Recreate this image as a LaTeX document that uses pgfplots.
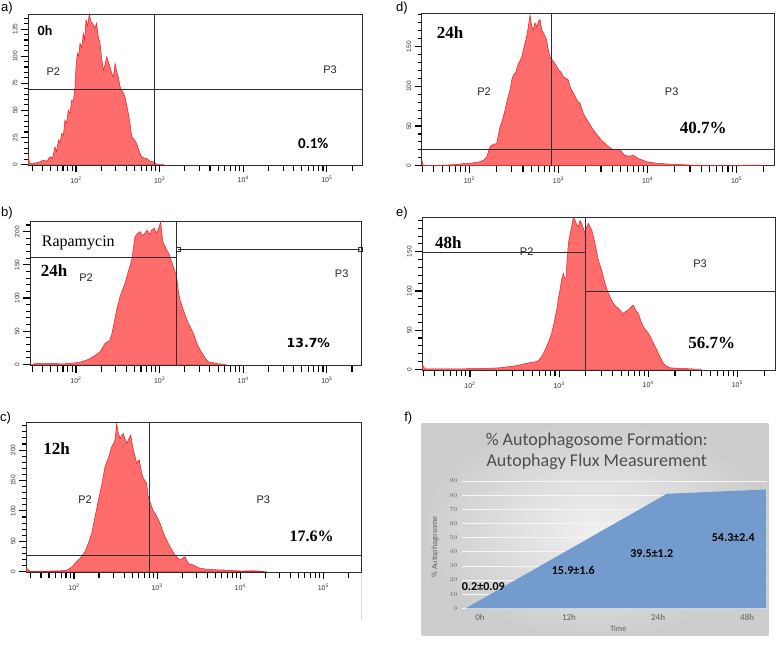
\documentclass[border=0pt]{standalone}
\usepackage{fontspec}
\setmainfont{Liberation Sans}
\newfontfamily\carlito{Carlito}
\newfontfamily\tnr{Liberation Serif}
\newfontfamily\djv{DejaVu Sans}
\usepackage{pgfplots}
\pgfplotsset{compat=1.18}
\definecolor{histfill}{RGB}{255,108,108}
\definecolor{histline}{RGB}{228,30,36}
\definecolor{gateline}{RGB}{45,45,45}
\definecolor{areablue}{RGB}{116,155,205}
\definecolor{titlegray}{RGB}{78,78,78}
\tikzset{tickst/.style={draw=black, line width=1.1pt}}
\newcommand\xticksat[2]{\pgfplotsinvokeforeach{#2}{\draw[tickst] (axis cs:##1,#1) -- ([yshift=-7pt]axis cs:##1,#1);}}
\newcommand\yticksat[3]{\pgfplotsinvokeforeach{#2}{\draw[tickst] (axis cs:#1,##1) -- ([xshift=-#3]axis cs:#1,##1);}}
\pgfplotsset{
  facs/.style={
    scale only axis, anchor=north west, clip=false,
    axis line style={gateline, line width=0.7pt},
    xtick={2,3,4,5},
    xticklabels={10\textsuperscript{2},10\textsuperscript{3},10\textsuperscript{4},10\textsuperscript{5}},
    minor xtick={1.477,1.602,1.699,1.778,1.845,1.903,1.954,2.301,2.477,2.602,2.699,2.778,2.845,2.903,2.954,3.301,3.477,3.602,3.699,3.778,3.845,3.903,3.954,4.301,4.477,4.602,4.699,4.778,4.845,4.903,4.954,5.301},
    tick align=outside, xtick pos=left, ytick pos=left,
    major tick length=7pt, minor tick length=6pt,
    every tick/.style={draw=black, line width=1.1pt},
    every minor tick/.style={draw=black, line width=1.1pt},
    tick label style={font=\fontsize{7}{7}\selectfont, text=black!80},
    yticklabel style={rotate=90, anchor=south, font=\fontsize{6.5}{6.5}\selectfont},
    xticklabel style={yshift=-1pt},
    /pgf/number format/assume math mode=true,
  },
  hist/.style={fill=histfill, draw=histline, line width=0.5pt},
  gate/.style={gateline, line width=0.7pt},
}
\begin{document}
\begin{tikzpicture}
\path[use as bounding box] (0,0) rectangle (778pt,-646pt);
\fill[white] (0,0) rectangle (778pt,-646pt);

% ---------------- panel a ----------------
\begin{axis}[facs, at={(28pt,-14pt)}, width=334pt, height=151pt,
  xmin=1.426, xmax=5.42, ymin=-0.5, ymax=139, ytick={0,25,50,75,100,125}]
\addplot[hist] coordinates {(1.426,0) (1.430,8.6) (1.445,1) (1.470,0.9) (1.560,2) (1.609,4) (1.650,3) (1.689,7.1) (1.720,6) (1.749,16.3) (1.769,12) (1.789,22.5) (1.809,20) (1.829,28.7) (1.849,27) (1.868,41) (1.888,38) (1.908,50.2) (1.928,47) (1.948,59.5) (1.968,58) (1.988,71.8) (2.000,90) (2.016,102.6) (2.032,100) (2.048,111.9) (2.068,108) (2.088,121.1) (2.104,115) (2.120,133.5) (2.140,128) (2.159,139) (2.179,132) (2.199,130.4) (2.223,126) (2.247,130.4) (2.267,118) (2.287,111.9) (2.307,98) (2.327,87.2) (2.347,92) (2.367,99.5) (2.387,95) (2.407,90.3) (2.427,84) (2.447,81) (2.467,93.4) (2.486,86) (2.506,81) (2.526,72) (2.546,68.7) (2.566,66) (2.586,62.6) (2.606,55) (2.626,47.2) (2.646,38) (2.666,25.6) (2.696,23) (2.726,19.4) (2.756,12) (2.785,7.1) (2.815,6) (2.845,5.5) (2.885,3) (2.925,2.5) (2.965,0.3) (3.05,0)} \closedcycle;
\addplot[gate] coordinates {(1.426,69.3) (5.42,69.3)};
\addplot[gate] coordinates {(2.937,-0.5) (2.937,139)};
\xticksat{-0.5}{2,3,4,5}
\yticksat{1.426}{0,25,50,75,100,125}{6pt}
\yticksat{1.426}{5,10,15,20,30,35,40,45,55,60,65,70,80,85,90,95,105,110,115,120,130,135}{4pt}
\end{axis}

% ---------------- panel d ----------------
\begin{axis}[facs, at={(421.7pt,-13.3pt)}, width=352.6pt, height=152.4pt,
  xmin=1.465, xmax=5.423, ymin=0, ymax=192, ytick={0,50,100,150}]
\addplot[hist] coordinates {(1.465,0) (1.467,7) (1.484,0.5) (1.70,0.5) (1.858,1.5) (1.93,2.5) (2.007,3) (2.06,4) (2.120,5) (2.16,7) (2.195,11) (2.232,24) (2.27,27) (2.307,28) (2.344,49) (2.372,58) (2.400,70) (2.428,84) (2.456,95) (2.475,108) (2.494,114) (2.522,118) (2.550,129) (2.568,132) (2.587,137) (2.615,150) (2.643,163) (2.662,175) (2.681,190) (2.700,176) (2.718,171) (2.737,180) (2.756,175) (2.775,182) (2.793,184) (2.812,172) (2.831,167) (2.850,163) (2.868,158) (2.887,145) (2.906,137) (2.925,134) (2.943,131) (2.971,127) (2.999,121) (3.027,118) (3.055,112) (3.083,110) (3.111,108) (3.130,100) (3.149,95) (3.177,90) (3.205,83) (3.224,80) (3.242,79) (3.261,72) (3.279,66) (3.308,60) (3.336,55) (3.364,50) (3.392,45) (3.420,41) (3.448,37) (3.476,33) (3.504,30) (3.532,27) (3.560,24) (3.588,22) (3.616,20) (3.654,21) (3.691,20) (3.719,16) (3.747,13) (3.794,12) (3.841,13) (3.869,11) (3.897,9) (3.944,7) (3.990,5) (4.05,4) (4.103,3) (4.18,2.5) (4.252,2) (4.35,1.5) (4.439,1) (4.589,0.5) (4.8,0.3) (5.29,0.8) (5.31,0)} \closedcycle;
\addplot[gate] coordinates {(1.465,20.6) (5.423,20.6)};
\addplot[gate] coordinates {(2.917,0) (2.917,192)};
\xticksat{0}{2,3,4,5}
\yticksat{1.465}{0,50,100,150}{6pt}
\yticksat{1.465}{10,20,30,40,60,70,80,90,110,120,130,140,160,170,180,190}{4pt}
\end{axis}

% ---------------- panel b ----------------
\begin{axis}[facs, at={(30pt,-221.7pt)}, width=331.7pt, height=144pt,
  xmin=1.45, xmax=5.417, ymin=-2, ymax=215, ytick={0,50,100,150,200}]
\addplot[hist] coordinates {(1.450,0) (1.470,0) (1.530,1.5) (1.63,1) (1.729,1.5) (1.81,0.8) (1.888,1) (1.95,2) (2.008,2.5) (2.07,4) (2.128,6.5) (2.168,9) (2.207,11.6) (2.247,15) (2.287,19) (2.317,25) (2.347,31.7) (2.377,34) (2.407,36.7) (2.427,45) (2.447,56.8) (2.467,70) (2.486,82) (2.506,92) (2.526,102) (2.556,112) (2.586,122) (2.606,131) (2.626,140) (2.646,148) (2.666,157) (2.686,175) (2.706,192.6) (2.736,197) (2.766,200) (2.796,194) (2.825,197.6) (2.845,202) (2.865,200) (2.885,195) (2.905,202.6) (2.935,205) (2.965,197.6) (2.989,205) (3.013,215) (3.029,195) (3.045,182.5) (3.065,178) (3.085,172.5) (3.105,168) (3.124,162.4) (3.144,155) (3.164,147.3) (3.184,140) (3.204,132.2) (3.224,110) (3.244,97) (3.264,90) (3.284,82) (3.314,72) (3.344,61.8) (3.374,54) (3.404,46.8) (3.434,36) (3.463,26.6) (3.493,20) (3.523,14) (3.553,8) (3.583,4) (3.613,3) (3.643,2.5) (3.692,1) (3.742,0.5) (3.80,0)} \closedcycle;
\addplot[gate] coordinates {(1.45,160.9) (3.204,160.9)};
\addplot[gate] coordinates {(3.204,-2) (3.204,215)};
\addplot[gate, mark=square, mark size=1.8pt, mark options={solid, line width=0.6pt}] coordinates {(3.22,173.5) (5.40,173.5)};
\xticksat{-2}{2,3,4,5}
\yticksat{1.45}{0,50,100,150,200}{6pt}
\yticksat{1.45}{10,20,30,40,60,70,80,90,110,120,130,140,160,170,180,190,210}{4pt}
\end{axis}

% ---------------- panel e ----------------
\begin{axis}[facs, at={(422.3pt,-217.3pt)}, width=352.7pt, height=152.7pt,
  xmin=1.465, xmax=5.423, ymin=-0.9, ymax=194, ytick={0,50,100,150}]
\addplot[hist] coordinates {(1.465,0) (1.469,5.5) (1.495,0.5) (1.80,0.4) (2.112,1) (2.25,1.5) (2.337,2) (2.41,3) (2.486,4) (2.56,5.5) (2.636,7.7) (2.69,9) (2.748,9.8) (2.776,12) (2.804,16.2) (2.832,22) (2.860,28.9) (2.889,37) (2.917,46) (2.945,60) (2.973,75.7) (2.991,90) (3.010,101) (3.029,115) (3.048,122.5) (3.063,116) (3.077,116) (3.090,140) (3.104,160.7) (3.122,172) (3.141,182) (3.160,194) (3.178,190.5) (3.197,185) (3.216,182) (3.235,190) (3.253,186.2) (3.272,180) (3.291,173.5) (3.310,182) (3.328,186.2) (3.347,182) (3.366,177.7) (3.385,170) (3.403,160.7) (3.422,150) (3.440,139.5) (3.459,133) (3.478,126.7) (3.497,118) (3.515,109.7) (3.534,103) (3.553,97) (3.581,90) (3.609,84.2) (3.637,80) (3.665,77.8) (3.693,74) (3.721,71.4) (3.749,74) (3.777,75.7) (3.805,79) (3.833,82) (3.861,75) (3.889,71.4) (3.917,62) (3.945,54.4) (3.974,50) (4.002,46) (4.030,40) (4.058,33.2) (4.086,27) (4.114,20.4) (4.142,14) (4.170,7.7) (4.208,4) (4.245,2) (4.30,1.5) (4.357,1.3) (4.43,0.8) (4.507,0.4) (4.6,0)} \closedcycle;
\addplot[gate] coordinates {(1.465,148.8) (3.298,148.8)};
\addplot[gate] coordinates {(3.298,99.1) (5.423,99.1)};
\addplot[gate] coordinates {(3.298,-0.9) (3.298,194)};
\xticksat{-0.9}{2,3,4,5}
\yticksat{1.465}{0,50,100,150}{6pt}
\yticksat{1.465}{10,20,30,40,60,70,80,90,110,120,130,140,160,170,180,190}{4pt}
\end{axis}

% ---------------- panel c ----------------
\begin{axis}[facs, at={(26pt,-422.7pt)}, width=335.7pt, height=149.6pt,
  xmin=1.422, xmax=5.462, ymin=-1, ymax=245, ytick={0,50,100,150,200}]
\addplot[hist] coordinates {(1.422,0) (1.430,5.5) (1.471,0.3) (1.60,0.8) (1.711,1) (1.80,1.5) (1.872,1.6) (1.92,3) (1.952,5.5) (1.982,9) (2.012,13.7) (2.042,18) (2.072,21.9) (2.102,27) (2.132,32.9) (2.152,40) (2.172,46.6) (2.193,55) (2.213,63) (2.233,77) (2.253,90.4) (2.273,104) (2.293,117.8) (2.313,130) (2.333,142.4) (2.353,158) (2.373,172.6) (2.393,180) (2.413,186.3) (2.433,196) (2.453,205.4) (2.473,210) (2.493,216.4) (2.503,230) (2.513,243.8) (2.533,228) (2.554,219.1) (2.574,224) (2.594,227.3) (2.614,218) (2.634,210.9) (2.658,218) (2.682,224.6) (2.698,212) (2.714,200) (2.734,190) (2.754,178) (2.770,182) (2.786,183.5) (2.806,168) (2.826,156) (2.850,150) (2.874,145.2) (2.884,133) (2.894,123.3) (2.915,114) (2.935,106.8) (2.955,100) (2.975,95.9) (3.005,88) (3.035,79.4) (3.065,68) (3.095,57.5) (3.125,49) (3.155,41.1) (3.185,34) (3.215,27.4) (3.245,23) (3.276,19.2) (3.306,22) (3.336,24.7) (3.356,18) (3.376,13.7) (3.406,12) (3.436,11) (3.476,8) (3.516,5.5) (3.577,4.5) (3.637,3.8) (3.737,3) (3.837,2.7) (3.918,1.8) (3.998,1.1) (4.078,1.2) (4.158,1.6) (4.238,0.8) (4.318,0)} \closedcycle;
\addplot[gate] coordinates {(1.422,26.3) (5.462,26.3)};
\addplot[gate] coordinates {(2.903,-1) (2.903,245)};
\xticksat{-1}{2,3,4,5}
\yticksat{1.422}{0,50,100,150,200}{6pt}
\yticksat{1.422}{10,20,30,40,60,70,80,90,110,120,130,140,160,170,180,190,210,220,230,240}{4pt}
\end{axis}
\draw[black!15, line width=0.6pt] (361.7pt,-574pt) -- (361.7pt,-621pt);

% ---------------- panel f ----------------
\shade[inner color={rgb,255:red,240;green,240;blue,240}, outer color={rgb,255:red,205;green,205;blue,205}] (421.7pt,-423pt) rectangle (768.3pt,-635pt);
\begin{axis}[scale only axis, anchor=south west, at={(461.7pt,-608.3pt)}, width=305pt, height=127.3pt,
  xmin=-0.205, xmax=3.22, ymin=0, ymax=90,
  axis line style={draw=none},
  xtick={0,1,2,3}, xticklabels={0h,12h,24h,48h},
  ytick={0,10,...,90}, ymajorgrids, grid style={white!93!gray, line width=0.6pt},
  major tick length=0pt,
  tick label style={font=\carlito\fontsize{8}{8}\selectfont, text=black!62},
  xticklabel style={yshift=-2pt, font=\carlito\fontsize{9}{9}\selectfont},
  yticklabel style={xshift=-1pt, font=\fontsize{6.5}{6.5}\selectfont},
  axis on top=false]
\addplot[fill=areablue, draw=none] coordinates {(-0.16,0) (2.10,81) (3.21,84) (3.21,0)} \closedcycle;
\end{axis}
\node[font=\carlito\fontsize{18}{21}\selectfont, text=titlegray, align=center] at (596.7pt,-451.7pt) {\% Autophagosome Formation:\\Autophagy Flux Measurement};
\node[font=\carlito\fontsize{8}{8}\selectfont, text=black!62, rotate=90] at (435pt,-546.7pt) {\% Autophagosome};
\node[font=\carlito\fontsize{8}{8}\selectfont, text=black!62] at (618.3pt,-628.3pt) {Time};
\begin{scope}[font=\carlito\bfseries\fontsize{12}{12}\selectfont]
\node at (483.3pt,-586.7pt) {0.2±0.09};
\node at (573.3pt,-570.7pt) {15.9±1.6};
\node at (651.7pt,-554pt) {39.5±1.2};
\node at (733.3pt,-537.3pt) {54.3±2.4};
\end{scope}

% ---------------- annotations ----------------
\begin{scope}[font=\fontsize{13}{13}\selectfont]
\node at (7pt,-8.3pt) {a)};
\node at (402pt,-8.3pt) {d)};
\node at (7pt,-213.3pt) {b)};
\node at (402pt,-213.3pt) {e)};
\node at (5.5pt,-418.3pt) {c)};
\node at (408.3pt,-418.3pt) {f)};
\end{scope}
\begin{scope}[font=\fontsize{11}{11}\selectfont, text=black!85]
\node at (53.3pt,-71.7pt) {P2};
\node at (330pt,-69.3pt) {P3};
\node at (484pt,-91.7pt) {P2};
\node at (671.7pt,-91.7pt) {P3};
\node at (86pt,-277.3pt) {P2};
\node at (341.7pt,-274pt) {P3};
\node at (526.7pt,-251.7pt) {P2};
\node at (700pt,-263.3pt) {P3};
\node at (85pt,-500pt) {P2};
\node at (263.3pt,-500pt) {P3};
\end{scope}
\node[font=\carlito\bfseries\fontsize{14}{14}\selectfont] at (45pt,-30.7pt) {0h};
\node[font=\carlito\bfseries\fontsize{15}{15}\selectfont] at (313.3pt,-143.3pt) {0.1\%};
\node[font=\tnr\bfseries\fontsize{17}{17}\selectfont] at (450pt,-32.3pt) {24h};
\node[font=\tnr\bfseries\fontsize{17}{17}\selectfont] at (703.3pt,-128.3pt) {40.7\%};
\node[font=\tnr\fontsize{16}{16}\selectfont] at (78.3pt,-243.3pt) {Rapamycin};
\node[font=\tnr\bfseries\fontsize{17}{17}\selectfont] at (54pt,-270.7pt) {24h};
\node[font=\djv\bfseries\fontsize{12.5}{12.5}\selectfont] at (308.3pt,-342.7pt) {13.7\%};
\node[font=\tnr\bfseries\fontsize{17}{17}\selectfont] at (448.3pt,-242.3pt) {48h};
\node[font=\tnr\bfseries\fontsize{17}{17}\selectfont] at (711.7pt,-343.3pt) {56.7\%};
\node[font=\tnr\bfseries\fontsize{17}{17}\selectfont] at (56.7pt,-449pt) {12h};
\node[font=\tnr\bfseries\fontsize{16}{16}\selectfont] at (311.7pt,-536pt) {17.6\%};
\end{tikzpicture}
\end{document}
